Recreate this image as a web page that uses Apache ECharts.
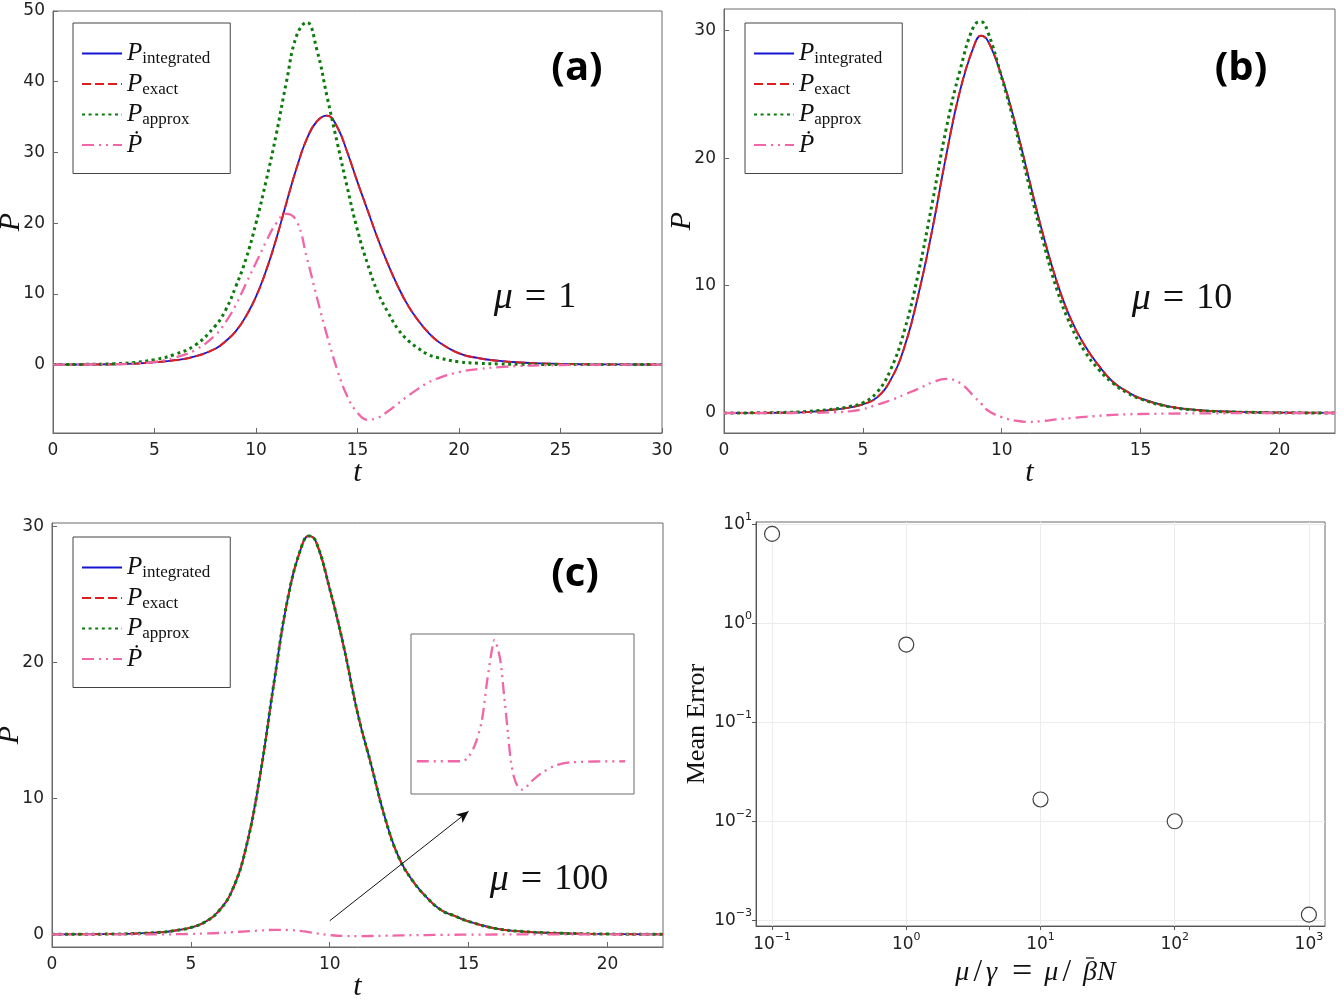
<!DOCTYPE html>
<html>
<head>
<meta charset="utf-8">
<script src="https://cdn.jsdelivr.net/npm/echarts@6/dist/echarts.min.js"></script>
<style>
html, body { margin: 0; padding: 0; background: #fff; }
#main { width: 1344px; height: 1008px; }
</style>
</head>
<body>
<div id="main"></div>
<script>
// panel (a), mu = 1
var tA = [0,2,3,4,5,6,7,8,8.5,9,9.5,10,10.5,11,11.5,12,12.5,13,13.5,14,14.5,15,15.5,16,16.5,17,17.5,18,18.5,19,20,21,22,23,24,26,28,30];
var integratedA = [0,0.02,0.05,0.13,0.33,0.62,1.15,2.25,3.3,4.7,6.8,9.6,13.3,17.8,22.9,27.8,31.9,34.4,35.2,33.6,30.0,25.8,21.8,17.8,14.2,11.0,8.3,6.2,4.5,3.2,1.6,0.9,0.52,0.3,0.17,0.05,0.02,0];
var exactA = [0,0.02,0.05,0.13,0.33,0.62,1.15,2.25,3.3,4.7,6.8,9.6,13.3,17.8,22.9,27.8,31.9,34.4,35.2,33.6,30.0,25.8,21.8,17.8,14.2,11.0,8.3,6.2,4.5,3.2,1.6,0.9,0.52,0.3,0.17,0.05,0.02,0];
var approxA = [0,0.05,0.12,0.3,0.7,1.45,2.75,5.5,7.7,11.0,14.9,20.0,26.0,32.6,40.0,46.5,48.4,44.5,37.9,31.4,25.0,19.0,14.2,10.2,7.4,5.0,3.4,2.3,1.4,0.95,0.4,0.18,0.09,0.04,0.02,0,0,0];
var dotA = [0,0.02,0.05,0.15,0.38,1.0,2.05,4.2,6.0,8.4,11.4,14.4,17.4,20.0,21.3,20.3,15.2,9.5,4.1,-0.7,-4.5,-6.8,-7.8,-7.5,-6.6,-5.5,-4.4,-3.4,-2.5,-1.9,-1.05,-0.62,-0.35,-0.19,-0.1,-0.03,0,0];

// panel (b), mu = 10
var tB = [0,2,3,4,4.5,5,5.5,6,6.5,7,7.5,8,8.5,9,9.25,9.5,10,10.5,11,11.5,12,12.5,13,13.5,14,14.5,15,16,17,18,19,20,22];
var integratedB = [0,0.02,0.07,0.28,0.42,0.68,1.2,2.6,5.2,9.3,14.4,20.2,25.3,28.8,29.6,29.2,26.4,22.6,18.2,13.9,10.2,7.3,5.25,3.7,2.45,1.7,1.14,0.52,0.24,0.12,0.06,0.03,0.01];
var exactB = [0,0.02,0.07,0.28,0.42,0.68,1.2,2.6,5.2,9.3,14.4,20.2,25.3,28.8,29.6,29.2,26.4,22.6,18.2,13.9,10.2,7.3,5.25,3.7,2.45,1.7,1.14,0.52,0.24,0.12,0.06,0.03,0.01];
var approxB = [0,0.04,0.12,0.32,0.5,0.8,1.6,3.4,6.5,11.0,16.5,22.3,26.9,30.4,30.7,29.9,26.3,22.3,17.7,13.4,9.6,6.8,4.8,3.4,2.35,1.6,1.1,0.5,0.22,0.1,0.05,0.02,0];
var dotB = [0,0,0.01,0.06,0.13,0.3,0.65,1.0,1.45,1.9,2.4,2.67,2.36,1.3,0.75,0.2,-0.33,-0.6,-0.7,-0.62,-0.5,-0.4,-0.3,-0.22,-0.15,-0.11,-0.08,-0.05,-0.03,-0.02,-0.01,0,0];

// panel (c), mu = 100
var tC = [0,2,3,4,4.5,5,5.5,6,6.5,7,7.5,8,8.5,9,9.25,9.5,10,10.5,11,11.5,12,12.5,13,13.5,14,14.5,15,16,17,18,19,20,22];
var integratedC = [0,0.02,0.06,0.17,0.3,0.5,0.9,1.7,3.3,6.5,11.8,18.6,24.8,28.6,29.3,28.9,25.4,21.2,16.3,12.4,8.5,5.6,3.9,2.7,1.8,1.35,0.95,0.42,0.2,0.1,0.05,0.02,0];
var exactC = [0,0.02,0.06,0.17,0.3,0.5,0.9,1.7,3.3,6.5,11.8,18.6,24.8,28.6,29.3,28.9,25.4,21.2,16.3,12.4,8.5,5.6,3.9,2.7,1.8,1.35,0.95,0.42,0.2,0.1,0.05,0.02,0];
var approxC = [0,0.02,0.06,0.17,0.3,0.5,0.9,1.7,3.3,6.5,11.8,18.6,24.8,28.6,29.3,28.9,25.4,21.2,16.3,12.4,8.5,5.6,3.9,2.7,1.8,1.35,0.95,0.42,0.2,0.1,0.05,0.02,0];
var dotC = [0,0,0,0,0.01,0.03,0.06,0.1,0.16,0.22,0.28,0.33,0.32,0.24,0.17,0.08,-0.05,-0.12,-0.13,-0.12,-0.1,-0.08,-0.06,-0.05,-0.04,-0.03,-0.02,-0.01,0,0,0,0,0];

// inset of (c): magnified P-dot, arbitrary units
var insetX = [2.6,22.7,25.5,28.7,31.7,33.9,35.9,37.4,39.9,41.7,43.4,44.8,46.3,48.1,49.9,54.1,58.6,64.6,72.1,96];
var insetDot = [0,0,0.03,0.137,0.33,0.63,0.876,1.0,0.85,0.55,0.247,0,-0.138,-0.214,-0.234,-0.164,-0.096,-0.036,-0.008,0];

// panel (d)
var ratioD = [0.1, 1, 10, 100, 1000];
var errorD = [8.0, 0.61, 0.0166, 0.01, 0.00114];

var names = ['P_integrated', 'P_exact', 'P_approx', 'Pdot'];
var SERIF = '"Liberation Serif", "DejaVu Serif", serif';
var SANS = '"DejaVu Sans", sans-serif';

var styles = {
  P_integrated: { color: '#1414d2', width: 1.8, type: 'solid' },
  P_exact: { color: '#dd1f1f', width: 2, type: [9, 4] },
  P_approx: { color: '#0c7a0c', width: 3, type: [3, 3.6] },
  Pdot: { color: '#f066a6', width: 2.3, type: [12, 5, 2, 5, 2, 5] }
};

function pair(t, v) {
  return t.map(function (x, i) { return [x, v[i]]; });
}

function curve(name, gi, t, v) {
  var s = styles[name];
  return {
    type: 'line', name: name, xAxisIndex: gi, yAxisIndex: gi,
    data: pair(t, v), showSymbol: false, symbol: 'none',
    smooth: 0.45,
    lineStyle: { color: s.color, width: s.width, type: s.type, cap: 'butt' },
    itemStyle: { color: s.color },
    emphasis: { disabled: true }, silent: true
  };
}

var axisCol = '#6a6a6a';
function linAxis(gi, min, max, ticks, nm, gap, isY) {
  return {
    type: 'value', gridIndex: gi, min: min, max: max,
    name: nm, nameLocation: 'middle', nameGap: gap, nameMoveOverlap: false,
    nameTextStyle: { fontFamily: SERIF, fontStyle: 'italic', fontSize: 30, color: '#111' },
    axisLine: { show: true, onZero: false, lineStyle: { color: axisCol, width: 1 } },
    axisTick: { show: true, inside: true, length: 5, customValues: ticks, lineStyle: { color: axisCol } },
    axisLabel: { customValues: ticks, color: '#222', fontFamily: SANS, fontSize: 17, margin: isY ? 8 : 9 },
    splitLine: { show: false }
  };
}

function powLabel(v) {
  var e = Math.round(Math.log(v) / Math.LN10);
  return '{b|10}{e|' + (e < 0 ? '\u2212' + (-e) : e) + '}';
}
var powRich = {
  b: { fontSize: 17, fontFamily: SANS, color: '#222', lineHeight: 26 },
  e: { fontSize: 11, fontFamily: SANS, color: '#222', lineHeight: 12, verticalAlign: 'top' }
};

function legendFor(left, top) {
  return {
    orient: 'vertical', left: left, top: top, data: names,
    selectedMode: false, itemWidth: 40, itemHeight: 12, itemGap: 4,
    padding: [18, 20, 16, 8],
    borderColor: '#444', borderWidth: 1, backgroundColor: '#fff',
    itemStyle: { color: 'transparent', borderColor: 'transparent', borderWidth: 0 },
    formatter: function (n) {
      if (n === 'Pdot') return '{p|\u1E56}';
      return '{p|P}{s|' + n.split('_')[1] + '}';
    },
    textStyle: {
      color: '#111',
      rich: {
        p: { fontFamily: SERIF, fontStyle: 'italic', fontSize: 25, color: '#111', lineHeight: 28 },
        s: { fontFamily: SERIF, fontSize: 17, color: '#111', lineHeight: 12, verticalAlign: 'bottom' }
      }
    }
  };
}

function muText(x, y, val) {
  return {
    type: 'text', x: x, y: y, silent: true,
    style: {
      text: '{m|\u03BC}{q|=}{d|' + val + '}',
      align: 'center', verticalAlign: 'middle', fill: '#111',
      rich: {
        m: { fontFamily: SERIF, fontStyle: 'italic', fontSize: 38, color: '#111' },
        q: { fontFamily: SERIF, fontSize: 38, color: '#111', padding: [0, 12, 0, 12] },
        d: { fontFamily: SERIF, fontSize: 36, color: '#111' }
      }
    }
  };
}
function tagText(x, y, s) {
  return {
    type: 'text', x: x, y: y, silent: true,
    style: { text: s, align: 'center', verticalAlign: 'middle', fill: '#000',
      fontFamily: '"Open Sans", sans-serif', fontWeight: 'bold', fontSize: 40 }
  };
}

var series = [];
[[0, tA, integratedA, exactA, approxA, dotA],
 [1, tB, integratedB, exactB, approxB, dotB],
 [2, tC, integratedC, exactC, approxC, dotC]].forEach(function (p) {
  series.push(curve('P_integrated', p[0], p[1], p[2]));
  series.push(curve('P_exact', p[0], p[1], p[3]));
  series.push(curve('P_approx', p[0], p[1], p[4]));
  series.push(curve('Pdot', p[0], p[1], p[5]));
});
// arrow pointing at the inset
series[series.length - 1].markLine = {
  silent: true, animation: false, symbol: ['none', 'arrow'], symbolSize: [8, 12],
  label: { show: false },
  lineStyle: { color: '#111', width: 1, type: 'solid' },
  data: [[{ coord: [10, 1.0] }, { coord: [15, 9.05] }]]
};

var inset = curve('Pdot', 4, insetX, insetDot);
inset.name = 'inset';
inset.smooth = 0.3;
series.push(inset);

series.push({
  type: 'scatter', name: 'Mean Error', xAxisIndex: 3, yAxisIndex: 3,
  data: pair(ratioD, errorD), symbol: 'circle', symbolSize: 15,
  itemStyle: { color: '#fff', borderColor: '#111', borderWidth: 1.2 },
  silent: true
});

function grid(l, t, w, h, bg) {
  return { show: true, borderColor: axisCol, borderWidth: 1,
    left: l, top: t, width: w, height: h,
    containLabel: false, outerBoundsMode: 'none',
    backgroundColor: bg || 'transparent' };
}

var mathTok = { fontFamily: SERIF, fontStyle: 'italic', fontSize: 28, color: '#111', lineHeight: 34 };
var option = {
  animation: false,
  backgroundColor: '#fff',
  grid: [
    grid(53, 11, 609, 422),
    grid(724, 9, 611, 424),
    grid(52, 523, 611, 424),
    grid(756, 522, 569, 404),
    grid(411, 634, 223, 160, '#fff')
  ],
  xAxis: [
    linAxis(0, 0, 30, [0, 5, 10, 15, 20, 25, 30], 't', 25, false),
    linAxis(1, 0, 22, [0, 5, 10, 15, 20], 't', 25, false),
    linAxis(2, 0, 22, [0, 5, 10, 15, 20], 't', 25, false),
    {
      type: 'log', logBase: 10, gridIndex: 3, min: 0.0759, max: 1318,
      name: '{i|\u03BC}{s|/}{g|\u03B3}{e|=}{i|\u03BC}{s|/}{b|\u03B2}{i|N}',
      nameLocation: 'middle', nameGap: 24,
      nameTextStyle: { fontFamily: SERIF, fontSize: 28, color: '#111', padding: [0, 10, 0, 0],
        rich: {
          i: mathTok,
          g: Object.assign({}, mathTok, { padding: [0, 3, 0, 0] }),
          b: Object.assign({}, mathTok, { padding: [0, 0, 0, 8] }),
          s: { fontFamily: SERIF, fontSize: 31, color: '#111', lineHeight: 34, padding: [0, 4, 0, 4] },
          e: { fontFamily: SERIF, fontSize: 36, color: '#111', lineHeight: 34, padding: [0, 12, 0, 12] }
        } },
      axisLine: { show: true, onZero: false, lineStyle: { color: '#555' } },
      axisTick: { show: true, length: 4, customValues: ratioD, lineStyle: { color: '#555' } },
      axisLabel: { customValues: [0.1, 1, 10, 100, 1000], formatter: powLabel, rich: powRich, margin: 6 },
      splitLine: { show: true, lineStyle: { color: '#ececec', width: 1 } }
    },
    { type: 'value', gridIndex: 4, min: 0, max: 100, show: false }
  ],
  yAxis: [
    linAxis(0, -9.67, 50, [0, 10, 20, 30, 40, 50], 'P', 27, true),
    linAxis(1, -1.57, 31.7, [0, 10, 20, 30], 'P', 27, true),
    linAxis(2, -0.93, 30.25, [0, 10, 20, 30], 'P', 27, true),
    {
      type: 'log', logBase: 10, gridIndex: 3, min: 0.000875, max: 10.55,
      name: 'Mean Error', nameLocation: 'middle', nameGap: 40,
      nameTextStyle: { fontFamily: SERIF, fontSize: 26, color: '#111' },
      axisLine: { show: true, onZero: false, lineStyle: { color: '#555' } },
      axisTick: { show: true, length: 4, customValues: [0.001, 0.01, 0.1, 1, 10], lineStyle: { color: '#555' } },
      axisLabel: { customValues: [0.001, 0.01, 0.1, 1, 10], formatter: powLabel, rich: powRich, margin: 4 },
      splitLine: { show: true, lineStyle: { color: '#ececec', width: 1 } }
    },
    { type: 'value', gridIndex: 4, min: -0.27, max: 1.05, show: false }
  ],
  legend: [legendFor(73, 23), legendFor(745, 23), legendFor(73, 537)],
  graphic: [
    tagText(577, 69, '(a)'),
    tagText(1241, 69, '(b)'),
    tagText(575, 575, '(c)'),
    muText(535, 298, '1'),
    muText(1182, 299, '10'),
    muText(549, 880, '100'),
    // bar over beta in the x-axis title of (d)
    { type: 'line', silent: true, shape: { x1: 1086, y1: 958, x2: 1094, y2: 958 },
      style: { stroke: '#111', lineWidth: 1.3 } }
  ],
  series: series
};

var myChart = echarts.init(document.getElementById('main'));
myChart.setOption(option);
</script>
</body>
</html>
